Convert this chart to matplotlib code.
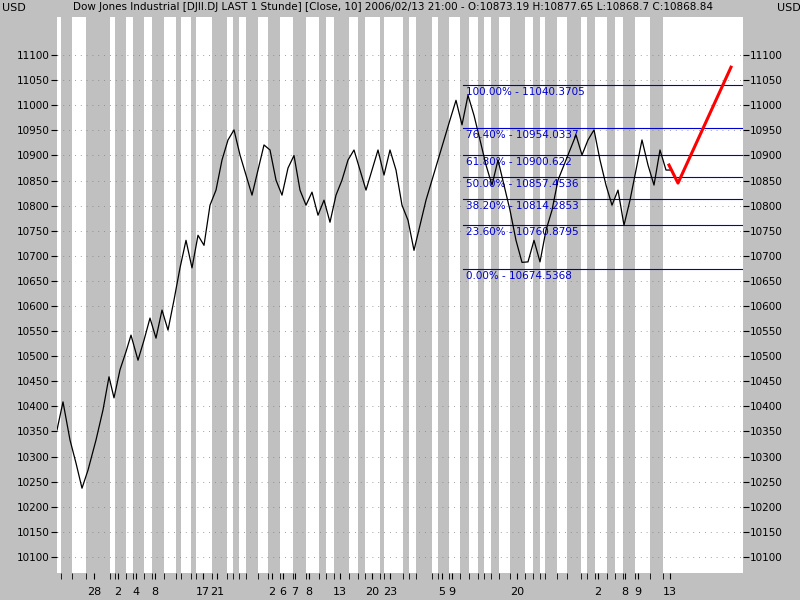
import matplotlib
matplotlib.use("Agg")
import matplotlib.pyplot as plt
import numpy as np

# session (bar) positions along the time axis
path_x = [57, 63, 70, 76, 82, 88, 96, 103, 109, 114, 120, 126, 131, 138, 144, 150, 156, 162, 168, 174,
          180, 186, 192, 198, 204, 210, 216, 222, 228, 234, 240, 246, 252, 258, 264, 270, 276, 282, 288, 294,
          300, 306, 312, 318, 324, 330, 336, 342, 348, 354, 360, 366, 372, 378, 384, 390, 396, 402, 408, 414,
          420, 426, 432, 438, 444, 450, 456, 462, 468, 474, 480, 486, 492, 498, 504, 510, 516, 522, 528, 534,
          540, 546, 552, 558, 564, 570, 576, 582, 588, 594, 600, 606, 612, 618, 624, 630, 636, 642, 648, 654,
          660, 666, 670]
path_close = [10353, 10409, 10333, 10287, 10237, 10273, 10333, 10393, 10459, 10417, 10473, 10509, 10542, 10492,
              10532, 10576, 10536, 10592, 10552, 10612, 10676, 10731, 10676, 10741, 10721, 10801, 10831, 10891,
              10931, 10951, 10901, 10861, 10821, 10871, 10921, 10911, 10851, 10821, 10875, 10900, 10831, 10801,
              10827, 10781, 10811, 10767, 10821, 10851, 10891, 10911, 10871, 10831, 10871, 10911, 10861, 10911,
              10871, 10801, 10771, 10711, 10761, 10811, 10851, 10891, 10931, 10971, 11010, 10961, 11020, 10980,
              10931, 10881, 10841, 10891, 10841, 10791, 10731, 10687, 10688, 10731, 10688, 10751, 10791, 10851,
              10881, 10911, 10941, 10901, 10931, 10951, 10891, 10841, 10801, 10831, 10761, 10811, 10871, 10931,
              10881, 10841, 10911, 10871, 10871]
proj_x = [669, 678, 731]
proj_val = [10881, 10845, 11076]

fib_pct = ["100.00%", "76.40%", "61.80%", "50.00%", "38.20%", "23.60%", "0.00%"]
fib_val = [11040.3705, 10954.0337, 10900.622, 10857.4536, 10814.2853, 10760.8795, 10674.5368]

bands = [(61, 72), (86, 110), (115, 126), (133, 144), (152, 164), (176, 181), (191, 196), (212, 227),
         (233, 239), (246, 258), (268, 280), (293, 306), (319, 326), (334, 349), (358, 365), (380, 384),
         (403, 409), (416, 432), (438, 449), (460, 469), (478, 484), (491, 499), (510, 525), (533, 540),
         (545, 557), (567, 581), (587, 595), (607, 615), (623, 635), (650, 663)]
day_pos = [94, 118, 136, 155, 203, 217, 272, 283, 295, 309, 340, 372, 390, 442, 452, 517, 598, 625, 638, 670]
day_lbl = ["28", "2", "4", "8", "17", "21", "2", "6", "7", "8", "13", "20", "23", "5", "9", "20", "2", "8", "9", "13"]

grey = "#c0c0c0"
fig = plt.figure(figsize=(8, 6), dpi=100, facecolor=grey)
ax = fig.add_axes([57/800, 27/600, 686/800, 556/600])
ax.set_xlim(57, 743)
ax.set_ylim(10068, 11176)
for a, b in bands:
    ax.axvspan(a, b, color=grey, lw=0, zorder=0)
for v in np.arange(10100, 11101, 50):
    ax.axhline(v, color="#808080", lw=0.6, ls=(0, (1, 6)), zorder=1)

ax.plot(path_x, path_close, color="black", lw=0.9, zorder=3)
ax.plot(proj_x, proj_val, color="red", lw=2.2, zorder=4)

for p, v in zip(fib_pct, fib_val):
    ax.plot([463, 743], [v, v], color="#0000cc", lw=0.8, zorder=2)
    ax.text(466, v - 4, "%s - %s" % (p, v), color="#0000cc", fontsize=7.5, va="top", ha="left", zorder=2)

for s in ax.spines.values():
    s.set_visible(False)
yt = np.arange(10100, 11101, 50)
ax.set_yticks(yt)
ax.set_yticklabels([str(v) for v in yt], fontsize=7.5)
ax.tick_params(axis="y", left=True, right=True, labelleft=True, labelright=True, length=4, width=0.8, pad=1)
ax.set_xticks(day_pos)
ax.set_xticklabels(day_lbl, fontsize=8)
edges = sorted(set([a for a, b in bands] + [b for a, b in bands]))
ax.set_xticks(edges, minor=True)
ax.tick_params(axis="x", which="major", length=4, pad=6)
ax.tick_params(axis="x", which="minor", length=4)

fig.text(2/800, 1 - 8/600, "USD", fontsize=8, va="center")
fig.text(777/800, 1 - 8/600, "USD", fontsize=8, va="center")
fig.text(73/800, 1 - 7/600,
         "Dow Jones Industrial [DJII.DJ LAST 1 Stunde] [Close, 10] 2006/02/13 21:00 - O:10873.19 H:10877.65 L:10868.7 C:10868.84",
         fontsize=7.5, va="center")
fig.savefig("out.png", dpi=100, facecolor=grey)
